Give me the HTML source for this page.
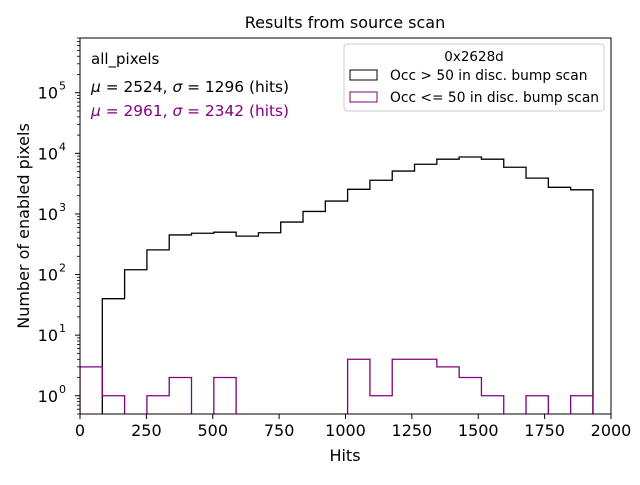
<!DOCTYPE html>
<html><head><meta charset="utf-8"><style>
body{margin:0;background:#fff;font-family:"Liberation Sans","DejaVu Sans",sans-serif}
svg text{font-family:"DejaVu Sans","Liberation Sans",sans-serif}
</style></head><body>
<svg id="chart" width="640" height="480" xmlns="http://www.w3.org/2000/svg">
<rect width="640" height="480" fill="#fff"/>
<text x="345" y="28" font-size="16" text-anchor="middle">Results from source scan</text>
<g id="plot"></g>
<g id="axes"></g>
<text x="345" y="461" font-size="16" text-anchor="middle">Hits</text>
<text transform="translate(29,226) rotate(-90)" font-size="16" text-anchor="middle">Number of enabled pixels</text>
<text x="91" y="64" font-size="15">all_pixels</text>
<text x="91" y="92" font-size="15.4"><tspan font-style="italic">μ</tspan> = 2524, <tspan font-style="italic">σ</tspan> = 1296 (hits)</text>
<text x="91" y="116" font-size="15.4" fill="#800080"><tspan font-style="italic">μ</tspan> = 2961, <tspan font-style="italic">σ</tspan> = 2342 (hits)</text>
<g>
<rect x="344" y="44" width="260" height="67" fill="#fff" stroke="#ccc" rx="3"/>
<text x="474" y="61" font-size="13.5" text-anchor="middle">0x2628d</text>
<rect x="350" y="70" width="27" height="10" fill="none" stroke="#000"/>
<text x="390" y="80" font-size="13.8">Occ &gt; 50 in disc. bump scan</text>
<rect x="350" y="92" width="27" height="10" fill="none" stroke="#800080"/>
<text x="390" y="102" font-size="13.8">Occ &lt;= 50 in disc. bump scan</text>
</g>
</svg>
<script>
const binWidth = 84;
const blackCounts = [0,40,120,255,450,480,500,430,490,735,1100,1630,2550,3600,5100,6600,8000,8700,8000,5900,3900,2750,2500];
const purpleCounts = [3,1,0,1,2,0,2,0,0,0,0,0,4,1,4,4,3,2,1,0,1,0,1];
const xTicks = [0,250,500,750,1000,1250,1500,1750,2000];
const yTickExps = [0,1,2,3,4,5];
const L=80,R=611,T=38,B=414, yMin=0.5, yMax=8e5;
const NS="http://www.w3.org/2000/svg";
function xs(v){return L+(v/2000)*(R-L);}
function ys(v){ if(v<=0) return B+2; return B-(Math.log10(v)-Math.log10(yMin))/(Math.log10(yMax)-Math.log10(yMin))*(B-T);}
const plot=document.getElementById('plot'), axes=document.getElementById('axes');
function mk(tag,attrs,parent){const e=document.createElementNS(NS,tag);for(const k in attrs)e.setAttribute(k,attrs[k]);parent.appendChild(e);return e;}
const clip=mk('clipPath',{id:'cp'},plot); mk('rect',{x:L,y:T,width:R-L,height:B-T},clip);
function stepPath(counts){
  let d='M'+xs(0)+','+ys(0);
  counts.forEach((c,i)=>{d+=' L'+xs(i*binWidth)+','+ys(c)+' L'+xs((i+1)*binWidth)+','+ys(c);});
  d+=' L'+xs(counts.length*binWidth)+','+ys(0);
  return d;
}
const pb=mk('path',{d:stepPath(blackCounts),fill:'none',stroke:'#000','stroke-width':1.3,'clip-path':'url(#cp)'},plot);


const pp=mk('path',{d:stepPath(purpleCounts),fill:'none',stroke:'#800080','stroke-width':1.3,'clip-path':'url(#cp)'},plot);


const fr=mk('rect',{x:L,y:T,width:R-L,height:B-T,fill:'none',stroke:'#000','stroke-width':1},axes);


xTicks.forEach(t=>{
  mk('line',{x1:xs(t),x2:xs(t),y1:B,y2:B+5,stroke:'#000'},axes);
  const tx=mk('text',{x:xs(t),y:B+22,'font-size':16,'text-anchor':'middle'},axes);
  tx.textContent=t;
  
  
});
yTickExps.forEach(e=>{
  const y=ys(Math.pow(10,e));
  mk('line',{x1:L-5,x2:L,y1:y,y2:y,stroke:'#000'},axes);
  const tx=mk('text',{x:L-22,y:y+6,'font-size':16,'text-anchor':'end'},axes);
  tx.textContent='10';
  
  
  const sp=mk('text',{x:L-21,y:y-3,'font-size':11},axes); sp.textContent=e;
});
for(let e=-1;e<=5;e++){for(let m=2;m<=9;m++){const v=m*Math.pow(10,e); if(v<yMin||v>yMax)continue; const y=ys(v); mk('line',{x1:L-3,x2:L,y1:y,y2:y,stroke:'#000','stroke-width':0.8},axes);}}
</script>
</body></html>
